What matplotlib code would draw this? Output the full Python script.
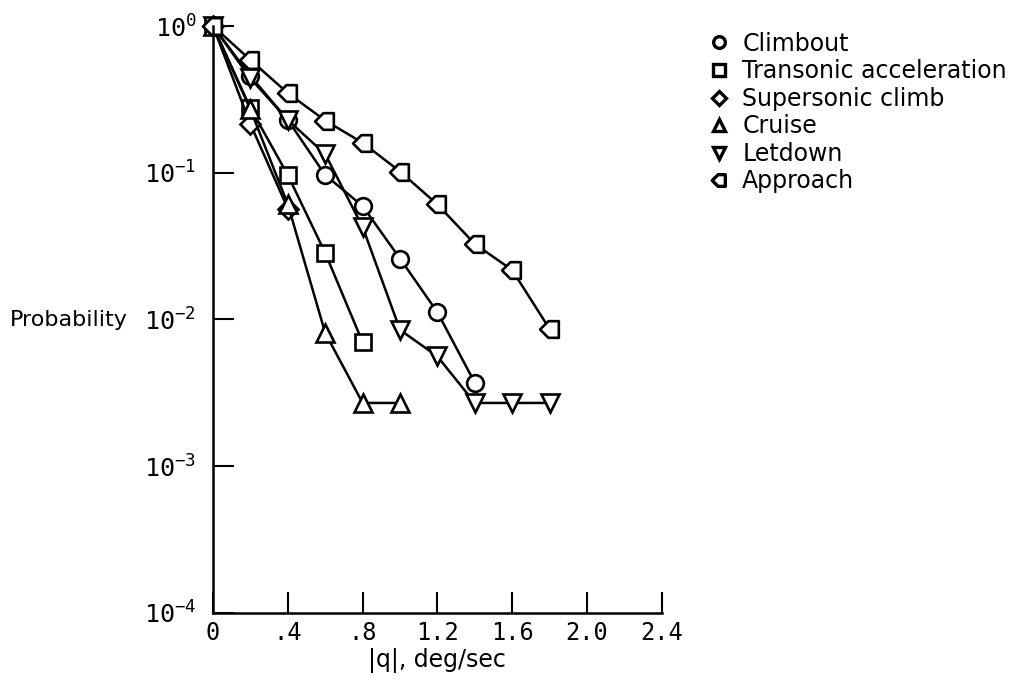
import matplotlib
matplotlib.use('Agg')
import matplotlib.pyplot as plt
from matplotlib.path import Path
from matplotlib.lines import Line2D
from matplotlib.ticker import FixedLocator, NullLocator

# Данные
climbout_x = [0, 0.2, 0.4, 0.6, 0.8, 1.0, 1.2, 1.4]
climbout_p = [1.0, 0.456, 0.229, 0.0965, 0.0593, 0.026, 0.0112, 0.0037]

transonic_x = [0, 0.2, 0.4, 0.6, 0.8]
transonic_p = [1.0, 0.276, 0.0965, 0.0284, 0.0070]

supersonic_x = [0, 0.2, 0.4]
supersonic_p = [1.0, 0.215, 0.057]

cruise_x = [0, 0.2, 0.4, 0.6, 0.8, 1.0]
cruise_p = [1.0, 0.27, 0.061, 0.0081, 0.0027, 0.0027]

letdown_x = [0, 0.2, 0.4, 0.6, 0.8, 1.0, 1.2, 1.4, 1.6, 1.8]
letdown_p = [1.0, 0.44, 0.229, 0.134, 0.0427, 0.0085, 0.0056, 0.0027, 0.0027, 0.0027]

approach_x = [0, 0.2, 0.4, 0.6, 0.8, 1.0, 1.2, 1.4, 1.6, 1.8]
approach_p = [1.0, 0.587, 0.349, 0.227, 0.160, 0.102, 0.0608, 0.0327, 0.0217, 0.0086]

labels = ['Climbout', 'Transonic acceleration', 'Supersonic climb',
          'Cruise', 'Letdown', 'Approach']
xtick_vals = [0, 0.4, 0.8, 1.2, 1.6, 2.0, 2.4]
xtick_labels = ['0', '.4', '.8', '1.2', '1.6', '2.0', '2.4']
ytick_vals = [1e-4, 1e-3, 1e-2, 1e-1, 1e0]
ytick_labels = ['$10^{-4}$', '$10^{-3}$', '$10^{-2}$', '$10^{-1}$', '$10^{0}$']

# маркер "домик", смотрящий влево (Approach)
house = Path([(-1.0, 0.0), (-0.2, 0.8), (0.8, 0.8), (0.8, -0.8), (-0.2, -0.8), (-1.0, 0.0)],
             [Path.MOVETO, Path.LINETO, Path.LINETO, Path.LINETO, Path.LINETO, Path.CLOSEPOLY])

markers = ['o', 's', 'D', '^', 'v', house]
sizes = [12, 11.5, 10.5, 13, 13, 15]
series = [(climbout_x, climbout_p), (transonic_x, transonic_p),
          (supersonic_x, supersonic_p), (cruise_x, cruise_p),
          (letdown_x, letdown_p), (approach_x, approach_p)]

plt.rcParams['font.family'] = ['DejaVu Sans']
plt.rcParams['mathtext.fontset'] = 'custom'
plt.rcParams['mathtext.rm'] = 'DejaVu Sans Mono'
plt.rcParams['mathtext.it'] = 'DejaVu Sans Mono'

fig = plt.figure(figsize=(10.23, 6.96), dpi=100)
ax = fig.add_axes([0.2082, 0.1193, 0.647 - 0.2082, 0.9626 - 0.1193])

for (xs, ps), m, ms in zip(series, markers, sizes):
    ax.plot(xs, ps, color='black', lw=1.8, marker=m, ms=ms,
            mfc='white', mec='black', mew=1.9, clip_on=False)

ax.set_yscale('log')
ax.set_xlim(0, 2.4)
ax.set_ylim(1e-4, 1)

ax.spines['top'].set_visible(False)
ax.spines['right'].set_visible(False)
ax.spines['left'].set_linewidth(1.8)
ax.spines['bottom'].set_linewidth(1.8)

ax.xaxis.set_major_locator(FixedLocator(xtick_vals))
ax.set_xticklabels(xtick_labels, family='DejaVu Sans Mono', fontsize=17)
ax.yaxis.set_major_locator(FixedLocator(ytick_vals))
ax.yaxis.set_minor_locator(NullLocator())
ax.set_yticklabels(ytick_labels, fontsize=18)
ax.tick_params(axis='both', direction='in', length=15, width=1.5, pad=6)
ax.tick_params(axis='y', pad=12)

ax.set_xlabel('|q|, deg/sec', fontsize=17, labelpad=2)
fig.text(0.01, 0.54, 'Probability', fontsize=16, va='center', ha='left')

handles = [Line2D([], [], ls='none', marker=m, ms=ms * 0.7, mfc='white', mec='black', mew=2.4)
           for m, ms in zip(markers, sizes)]
fig.legend(handles, labels, loc='upper left', bbox_to_anchor=(0.684, 0.968),
           frameon=False, fontsize=17, handlelength=0.8, handletextpad=0.6,
           labelspacing=0.15, borderaxespad=0)

fig.savefig('out.png', dpi=100)
plt.close(fig)
